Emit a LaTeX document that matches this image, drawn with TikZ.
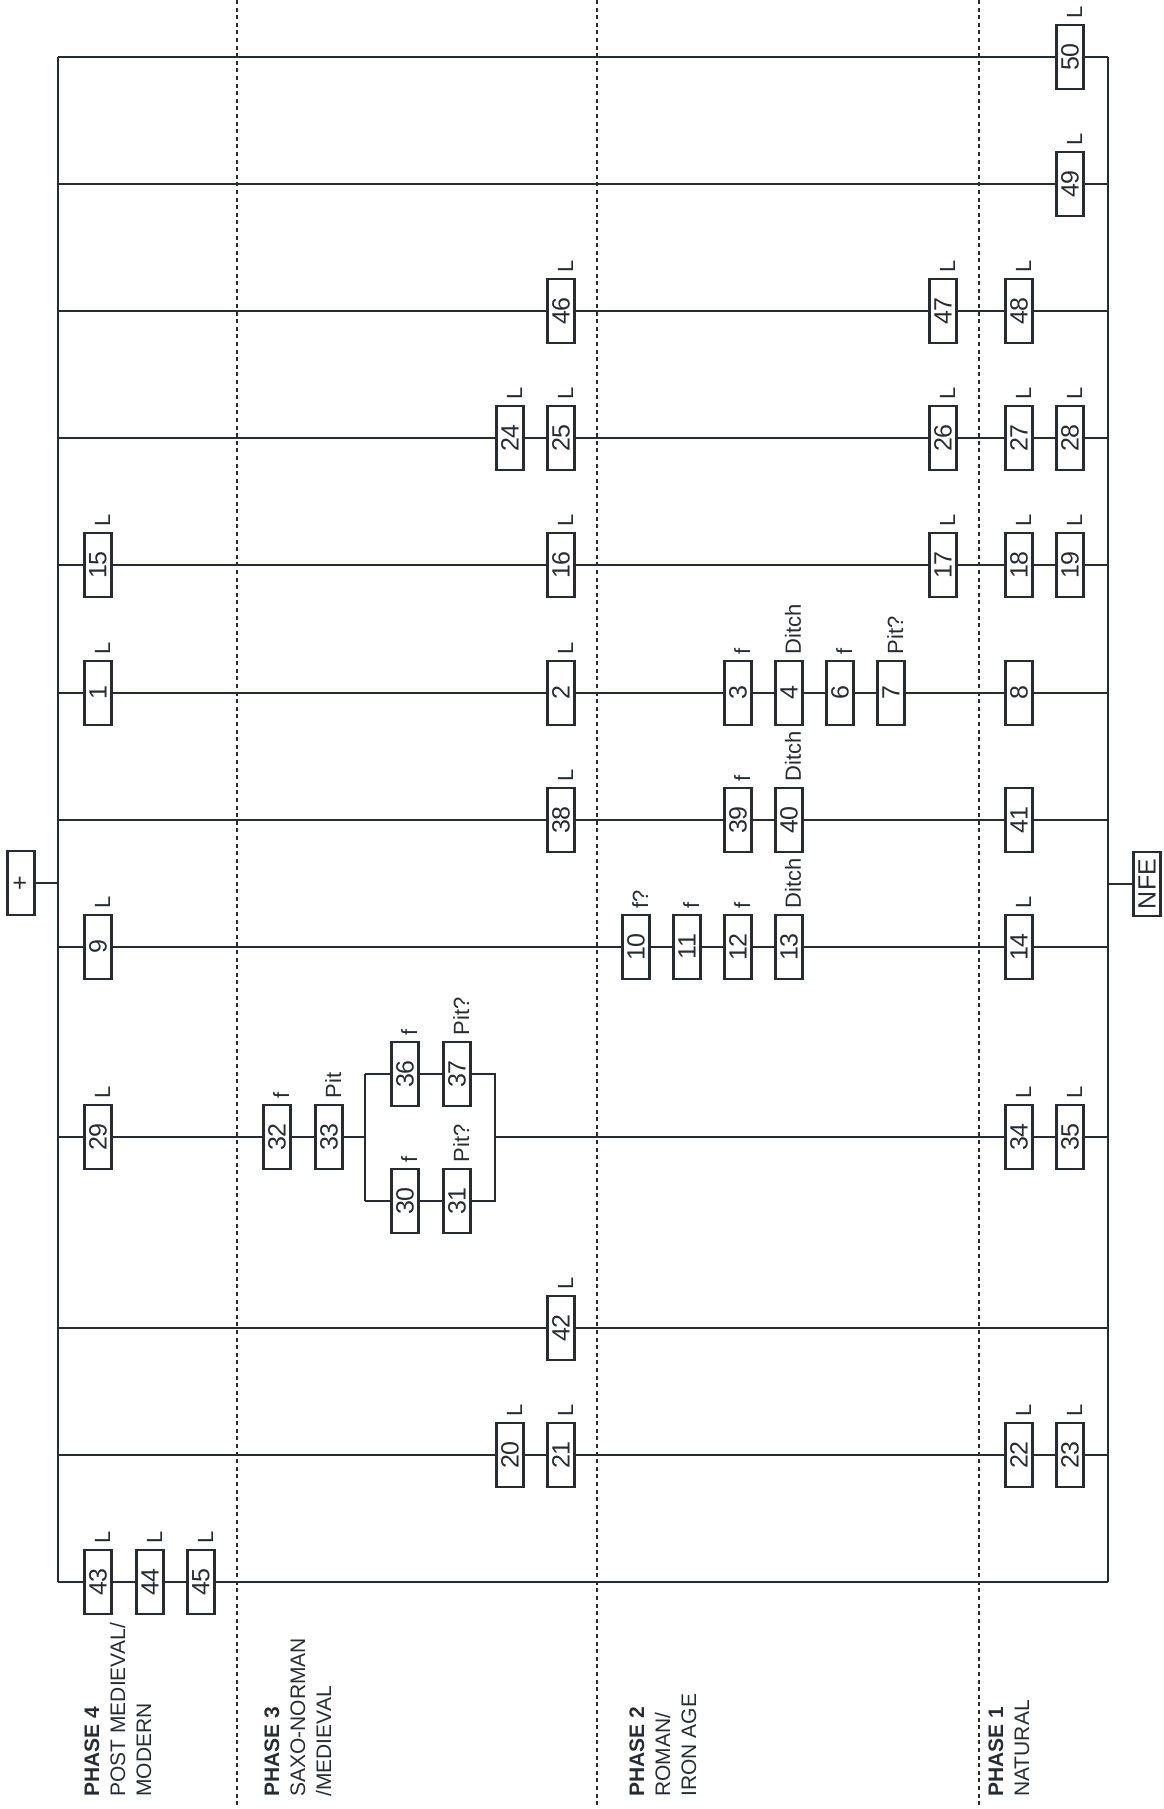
\documentclass[tikz,border=0pt]{standalone}
\usepackage{fontspec}
\setmainfont{Liberation Sans}
\definecolor{ink}{RGB}{40,44,48}
\tikzset{
  unit/.style={draw=ink,rectangle,rotate=90,minimum width=32pt,minimum height=13.5pt,
    inner sep=0pt,line width=1.1pt,text=ink,font=\fontsize{12.5}{13}\selectfont},
  lab/.style={rotate=90,anchor=south west,inner xsep=2.5pt,inner ysep=1pt,text=ink,
    font=\fontsize{11}{12}\selectfont},
  link/.style={draw=ink,line width=0.95pt},
  phaseline/.style={draw=ink,line width=1.2pt,dash pattern=on 2pt off 1.8pt},
  phase/.style={rotate=90,anchor=north west,align=left,inner sep=0pt,text=ink,
    font=\fontsize{10.5}{13}\selectfont}
}
\begin{document}
\begin{tikzpicture}[x=0.5pt,y=-0.5pt]
\useasboundingbox (0,0) rectangle (1163,1809);
% phase dividers
\foreach \x in {237,597,979} \draw[phaseline] (\x,0) -- (\x,1809);
% phase names
\node[phase] (p4) at (84,1797) {\textbf{PHASE 4}\\POST MEDIEVAL/\\MODERN};
\node[phase] (p3) at (264,1797) {\textbf{PHASE 3}\\SAXO-NORMAN\\/MEDIEVAL};
\node[phase] (p2) at (629,1797) {\textbf{PHASE 2}\\ROMAN/\\IRON AGE};
\node[phase] (p1) at (988,1797) {\textbf{PHASE 1}\\NATURAL};
% ends of each branch on the two main lines
\foreach \k/\y in {0/57,1/184,2/311,3/438,4/565,5/693,6/820,7/947,8/1137,10/1328,11/1455,12/1582}{
  \coordinate (a\k) at (58,\y);
  \coordinate (b\k) at (1108,\y);
}
\coordinate (atop) at (58,883);
\coordinate (bbot) at (1108,884);
% contexts
\foreach \n/\x/\y in {50/1070/57,49/1070/184,
  46/561/311,47/943/311,48/1019/311,
  24/510/438,25/561/438,26/943/438,27/1019/438,28/1070/438,
  15/98/565,16/561/565,17/943/565,18/1019/565,19/1070/565,
  1/98/693,2/561/693,3/738/693,4/789/693,6/840/693,7/891/693,8/1019/693,
  38/561/820,39/738/820,40/789/820,41/1019/820,
  9/98/947,10/636/947,11/687/947,12/738/947,13/789/947,14/1019/947,
  29/98/1137,32/277/1137,33/329/1137,36/405/1074,37/457/1074,
  30/405/1201,31/457/1201,34/1019/1137,35/1070/1137,
  42/561/1328,
  20/510/1455,21/561/1455,22/1019/1455,23/1070/1455,
  43/98/1582,44/150/1582,45/201/1582}
  \node[unit] (u\n) at (\x,\y) {\n};
\node[unit] (plus) at (21,883) {+};
\node[unit] (nfe) at (1147,884) {NFE};
% interpretations
\foreach \n/\t in {50/L,49/L,46/L,47/L,48/L,24/L,25/L,26/L,27/L,28/L,
  15/L,16/L,17/L,18/L,19/L,1/L,2/L,3/f,4/Ditch,6/f,7/Pit?,
  38/L,39/f,40/Ditch,9/L,10/f?,11/f,12/f,13/Ditch,14/L,
  29/L,32/f,33/Pit,36/f,37/Pit?,30/f,31/Pit?,34/L,35/L,
  42/L,20/L,21/L,22/L,23/L,43/L,44/L,45/L}
  \node[lab] (t\n) at (u\n.south east) {\t};
% main lines
\draw[link] (a0) -- (a12);
\draw[link] (b0) -- (b12);
\draw[link] (plus) -- (atop);
\draw[link] (bbot) -- (nfe);
% branches
\draw[link] (a0) -- (u50) -- (b0);
\draw[link] (a1) -- (u49) -- (b1);
\draw[link] (a2) -- (u46) -- (u47) -- (u48) -- (b2);
\draw[link] (a3) -- (u24) -- (u25) -- (u26) -- (u27) -- (u28) -- (b3);
\draw[link] (a4) -- (u15) -- (u16) -- (u17) -- (u18) -- (u19) -- (b4);
\draw[link] (a5) -- (u1) -- (u2) -- (u3) -- (u4) -- (u6) -- (u7) -- (u8) -- (b5);
\draw[link] (a6) -- (u38) -- (u39) -- (u40) -- (u41) -- (b6);
\draw[link] (a7) -- (u9) -- (u10) -- (u11) -- (u12) -- (u13) -- (u14) -- (b7);
% branch that splits round the pits
\coordinate (split) at (365,1137);
\coordinate (splitT) at (365,1074);
\coordinate (splitB) at (365,1201);
\coordinate (join) at (495,1137);
\coordinate (joinT) at (495,1074);
\coordinate (joinB) at (495,1201);
\draw[link] (a8) -- (u29) -- (u32) -- (u33) -- (split);
\draw[link] (splitT) -- (splitB);
\draw[link] (splitT) -- (u36) -- (u37) -- (joinT) -- (joinB) -- (u31) -- (u30) -- (splitB);
\draw[link] (join) -- (u34) -- (u35) -- (b8);
\draw[link] (a10) -- (u42) -- (b10);
\draw[link] (a11) -- (u20) -- (u21) -- (u22) -- (u23) -- (b11);
\draw[link] (a12) -- (u43) -- (u44) -- (u45) -- (b12);
\end{tikzpicture}
\end{document}
